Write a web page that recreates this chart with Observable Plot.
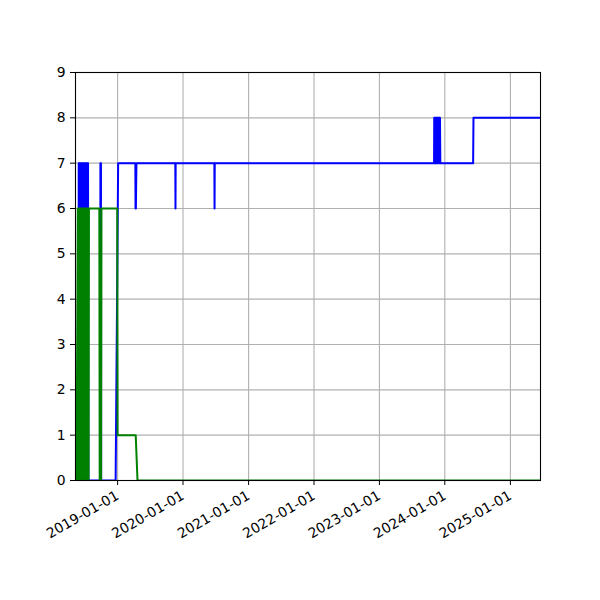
<!DOCTYPE html>
<html><head><meta charset="utf-8">
<script src="https://cdn.jsdelivr.net/npm/d3@7"></script>
<script src="https://cdn.jsdelivr.net/npm/@observablehq/plot@0.6"></script>
<style>body{margin:0;background:#fff}</style>
</head><body><div id="chart"></div>
<script>
const xDomain = ["2018-05-11", "2025-06-18"];
const yearTicks = ["2019-01-01","2020-01-01","2021-01-01","2022-01-01","2023-01-01","2024-01-01","2025-01-01"];
const yTicks = [0,1,2,3,4,5,6,7,8,9];

const blueDates = [
  "2018-05-11","2018-05-28",
  "2018-05-29","2018-05-31","2018-06-02","2018-06-04","2018-06-06","2018-06-08","2018-06-10","2018-06-12",
  "2018-06-14","2018-06-16","2018-06-18","2018-06-20","2018-06-22","2018-06-24","2018-06-26","2018-06-28",
  "2018-06-30","2018-07-02","2018-07-04","2018-07-06","2018-07-08","2018-07-10","2018-07-12","2018-07-14",
  "2018-07-16","2018-07-18","2018-07-20","2018-07-22",
  "2018-09-26","2018-09-27","2018-09-30","2018-10-01",
  "2018-12-21","2019-01-04",
  "2019-04-10","2019-04-11","2019-04-13","2019-04-16",
  "2019-11-19","2019-11-20","2019-11-21",
  "2020-06-24","2020-06-25","2020-06-26",
  "2023-11-02","2023-11-03","2023-11-05","2023-11-07","2023-11-09","2023-11-11","2023-11-13","2023-11-15",
  "2023-11-17","2023-11-19","2023-11-21","2023-11-23","2023-11-25","2023-11-27","2023-11-29","2023-12-01",
  "2023-12-03","2023-12-05","2023-12-07",
  "2024-06-07","2024-06-09","2025-06-18"
];
const blueValues = [
  0,0,
  7,0,7,0,7,0,7,0,
  7,0,7,0,7,0,7,0,
  7,0,7,0,7,0,7,0,
  7,0,7,0,
  0,7,7,0,
  0,7,
  7,6,6,7,
  7,6,7,
  7,6,7,
  7,8,7,8,7,8,7,8,
  7,8,7,8,7,8,7,8,
  7,8,7,
  7,8,8
];

const greenDates = [
  "2018-05-11","2018-05-17","2018-05-24","2018-05-27",
  "2018-05-28","2018-05-30","2018-06-01","2018-06-03","2018-06-05","2018-06-07","2018-06-09","2018-06-11",
  "2018-06-13","2018-06-15","2018-06-17","2018-06-19","2018-06-21","2018-06-23","2018-06-25","2018-06-27",
  "2018-06-29","2018-07-01","2018-07-03","2018-07-05","2018-07-07","2018-07-09","2018-07-11","2018-07-13",
  "2018-07-15","2018-07-17","2018-07-19","2018-07-21","2018-07-23","2018-07-25",
  "2018-09-21","2018-09-23","2018-10-01","2018-10-03",
  "2018-12-30","2019-01-01",
  "2019-04-12","2019-04-22",
  "2025-06-18"
];
const greenValues = [
  0,0,6,6,
  0,6,0,6,0,6,0,6,
  0,6,0,6,0,6,0,6,
  0,6,0,6,0,6,0,6,
  0,6,0,6,0,6,
  6,0,0,6,
  6,1,
  1,0,
  0
];

const parse = d3.utcParse("%Y-%m-%d");
const blue = blueDates.map((d, i) => ({date: parse(d), value: blueValues[i]}));
const green = greenDates.map((d, i) => ({date: parse(d), value: greenValues[i]}));
const xt = yearTicks.map(parse);

const chart = Plot.plot({
  width: 600, height: 600,
  marginLeft: 75, marginRight: 60, marginTop: 72, marginBottom: 120,
  style: {fontFamily: "DejaVu Sans", fontSize: "13.9px", background: "#fff", color: "#000"},
  x: {type: "utc", domain: xDomain.map(parse)},
  y: {domain: [0, 9]},
  marks: [
    Plot.gridX(xt, {stroke: "#b0b0b0", strokeOpacity: 1, strokeWidth: 1.1}),
    Plot.gridY(yTicks, {stroke: "#b0b0b0", strokeOpacity: 1, strokeWidth: 1.1}),
    Plot.line(blue, {x: "date", y: "value", stroke: "#0000ff", strokeWidth: 2, clip: true}),
    Plot.line(green, {x: "date", y: "value", stroke: "#008000", strokeWidth: 2, clip: true}),
    Plot.frame({stroke: "#000", strokeWidth: 1.1}),
    Plot.axisX(xt, {tickFormat: d3.utcFormat("%Y-%m-%d"), tickRotate: -30, tickSize: 5, tickPadding: 9, label: null}),
    Plot.axisY(yTicks, {tickSize: 5, tickPadding: 5, label: null})
  ]
});
document.getElementById("chart").appendChild(chart);
</script>
</body></html>
